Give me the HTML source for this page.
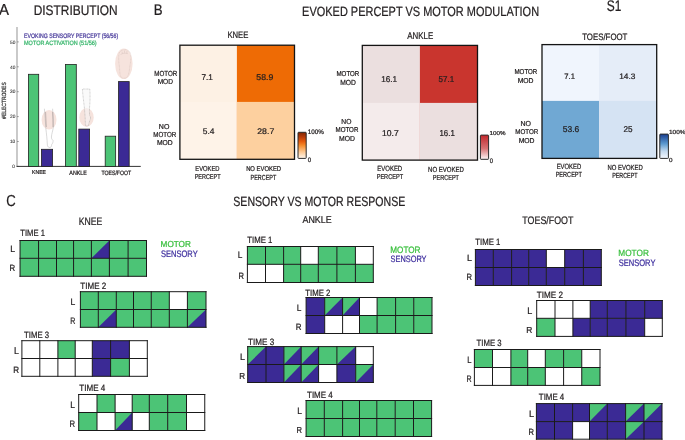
<!DOCTYPE html>
<html><head><meta charset="utf-8"><title>Figure</title>
<style>
html,body{margin:0;padding:0;background:#fff;}
body{width:685px;height:440px;overflow:hidden;}
svg{display:block;will-change:transform;filter:blur(0.3px);text-rendering:geometricPrecision;font-family:"Liberation Sans", sans-serif;}
</style></head>
<body>
<svg width="685" height="440" viewBox="0 0 685 440">
<defs>
<linearGradient id="gO" x1="0" y1="1" x2="0" y2="0"><stop offset="0" stop-color="#fff8ef"/><stop offset="0.25" stop-color="#fdc892"/><stop offset="0.5" stop-color="#f58a2a"/><stop offset="0.65" stop-color="#e55a0c"/><stop offset="0.82" stop-color="#b83c0a"/><stop offset="1" stop-color="#7f2704"/></linearGradient>
<linearGradient id="gR" x1="0" y1="1" x2="0" y2="0"><stop offset="0" stop-color="#fff8f8"/><stop offset="0.45" stop-color="#d77273"/><stop offset="1" stop-color="#c2272c"/></linearGradient>
<linearGradient id="gB" x1="0" y1="1" x2="0" y2="0"><stop offset="0" stop-color="#f5f9ff"/><stop offset="0.3" stop-color="#c3d9ee"/><stop offset="0.6" stop-color="#5b9ad0"/><stop offset="1" stop-color="#183c8e"/></linearGradient>
</defs>
<rect width="685" height="440" fill="#fff"/>
<text x="-1.07" y="14.80" font-size="15.84" fill="#231f20" textLength="10.01" lengthAdjust="spacingAndGlyphs" stroke="#231f20" stroke-width="0.24">A</text>
<text x="33.65" y="14.60" font-size="13.95" fill="#231f20" textLength="84.07" lengthAdjust="spacingAndGlyphs" stroke="#231f20" stroke-width="0.24">DISTRIBUTION</text>
<text x="24.08" y="37.50" font-size="6.40" fill="#4a3c9c" textLength="94.04" lengthAdjust="spacingAndGlyphs" stroke="#4a3c9c" stroke-width="0.24">EVOKING SENSORY PERCEPT (56/56)</text>
<text x="24.06" y="44.60" font-size="6.25" fill="#35b56a" textLength="72.60" lengthAdjust="spacingAndGlyphs" stroke="#35b56a" stroke-width="0.24">MOTOR ACTIVATION (51/56)</text>
<line x1="17" y1="27" x2="17" y2="166.4" stroke="#a6a6a6" stroke-width="1.2"/>
<line x1="17" y1="166.40" x2="18.8" y2="166.40" stroke="#666" stroke-width="0.6"/>
<text x="12.37" y="168.10" font-size="4.80" fill="#333" textLength="2.67" lengthAdjust="spacingAndGlyphs" stroke="#333" stroke-width="0.08">0</text>
<line x1="17" y1="141.50" x2="18.8" y2="141.50" stroke="#666" stroke-width="0.6"/>
<text x="9.95" y="143.20" font-size="4.80" fill="#333" textLength="5.34" lengthAdjust="spacingAndGlyphs" stroke="#333" stroke-width="0.08">10</text>
<line x1="17" y1="116.60" x2="18.8" y2="116.60" stroke="#666" stroke-width="0.6"/>
<text x="10.01" y="118.30" font-size="4.80" fill="#333" textLength="5.34" lengthAdjust="spacingAndGlyphs" stroke="#333" stroke-width="0.08">20</text>
<line x1="17" y1="91.70" x2="18.8" y2="91.70" stroke="#666" stroke-width="0.6"/>
<text x="10.04" y="93.40" font-size="4.80" fill="#333" textLength="5.34" lengthAdjust="spacingAndGlyphs" stroke="#333" stroke-width="0.08">30</text>
<line x1="17" y1="66.80" x2="18.8" y2="66.80" stroke="#666" stroke-width="0.6"/>
<text x="10.07" y="68.50" font-size="4.80" fill="#333" textLength="5.34" lengthAdjust="spacingAndGlyphs" stroke="#333" stroke-width="0.08">40</text>
<line x1="17" y1="41.90" x2="18.8" y2="41.90" stroke="#666" stroke-width="0.6"/>
<text x="10.04" y="43.60" font-size="4.80" fill="#333" textLength="5.34" lengthAdjust="spacingAndGlyphs" stroke="#333" stroke-width="0.08">50</text>
<line x1="16.5" y1="166.4" x2="140.75" y2="166.4" stroke="#333" stroke-width="1"/>
<ellipse cx="49.05" cy="119.7" rx="7.45" ry="9.8" fill="#f6e3dd"/>
<path d="M44.4 108.7 C44.8 115 45.5 122 45.9 129 C46.5 134 47.1 139 47.4 145.3 C47.7 147 48.8 147.6 50.2 147.5 C51.2 147.2 51.6 146 51.7 144.5 C52.6 143.5 53.3 141.8 53.0 140.4 C52.2 139.6 51.4 138.8 51.4 137 C51.6 134 52.8 131 53.4 127 C53.6 121 52.9 115 52.6 108.7" fill="none" stroke="#b4b4b4" stroke-width="0.5"/>
<path d="M45.6 112 C45.9 117 46.1 122 46.3 127 M52.7 112 C52.9 117 53.1 122 53.0 127" fill="none" stroke="#8c8080" stroke-width="0.45"/>
<ellipse cx="86.5" cy="117.4" rx="7.2" ry="9.5" fill="#f6e3dd"/>
<path d="M82.4 89 C82.8 95 83.6 101 84.3 107 C84.9 113 85.3 119 85.4 125.4 C86.4 126 87.6 126 88.5 125.4 C88.8 123.5 89.6 121 90.4 119 C90.8 117.8 90.4 116.5 89.6 115.4 C89.4 113 89.4 110 89.6 107 C90.1 101 90.2 95 89.8 89 Z" fill="#f6f6f6" fill-opacity="0.55" stroke="#a0a0a0" stroke-width="0.5" stroke-dasharray="0.9 0.5"/>
<ellipse cx="123.85" cy="63.85" rx="8.75" ry="15.25" fill="#f6e3dd"/>
<path d="M119.2 53 C120.5 50.3 123.5 49.4 126.2 49.8 C128.6 50.2 130.4 52 130.8 55 C131.2 59 130.2 64 129.6 68 C129.2 72 128.6 76 126.3 77.8 C124.3 78.6 121.6 78.3 120.6 76.3 C119.6 73.5 119.8 69.5 119.3 66 C118.8 62 118.2 57 119.2 53 Z" fill="none" stroke="#cdb9b3" stroke-width="0.45" stroke-dasharray="0.9 0.5"/>
<path d="M120.6 54.5 C122.5 53.2 125 52.8 127.8 53.6 M122 51.6 L122.4 53.4 M124.5 50.6 L124.6 52.8 M127 51 L126.8 53.2" fill="none" stroke="#cdb9b3" stroke-width="0.4"/>
<rect x="28.40" y="74.30" width="10.30" height="92.10" fill="#4cc476" stroke="#222" stroke-width="0.8"/>
<rect x="41.40" y="149.30" width="11.20" height="17.10" fill="#3b2a95" stroke="#222" stroke-width="0.8"/>
<rect x="65.40" y="64.40" width="10.90" height="102.00" fill="#4cc476" stroke="#222" stroke-width="0.8"/>
<rect x="78.80" y="129.10" width="10.80" height="37.30" fill="#3b2a95" stroke="#222" stroke-width="0.8"/>
<rect x="105.20" y="136.20" width="10.45" height="30.20" fill="#4cc476" stroke="#222" stroke-width="0.8"/>
<rect x="118.50" y="81.60" width="10.70" height="84.80" fill="#3b2a95" stroke="#222" stroke-width="0.8"/>
<text x="32.09" y="174.40" font-size="5.81" fill="#231f20" textLength="13.83" lengthAdjust="spacingAndGlyphs" stroke="#231f20" stroke-width="0.24">KNEE</text>
<text x="69.37" y="175.00" font-size="6.25" fill="#231f20" textLength="17.46" lengthAdjust="spacingAndGlyphs" stroke="#231f20" stroke-width="0.24">ANKLE</text>
<text x="101.40" y="175.00" font-size="6.25" fill="#231f20" textLength="29.81" lengthAdjust="spacingAndGlyphs" stroke="#231f20" stroke-width="0.24">TOES/FOOT</text>
<text transform="translate(5.7,118.9) rotate(-90)" font-size="6.0" fill="#2a2a2a" stroke="#2a2a2a" stroke-width="0.22" textLength="36.65" lengthAdjust="spacingAndGlyphs">#ELECTRODES</text>
<text x="153.84" y="15.40" font-size="15.41" fill="#231f20" textLength="8.85" lengthAdjust="spacingAndGlyphs" stroke="#231f20" stroke-width="0.24">B</text>
<text x="302.12" y="15.60" font-size="13.37" fill="#231f20" textLength="236.96" lengthAdjust="spacingAndGlyphs" stroke="#231f20" stroke-width="0.24">EVOKED PERCEPT VS MOTOR MODULATION</text>
<text x="606.86" y="10.90" font-size="15.41" fill="#231f20" textLength="14.61" lengthAdjust="spacingAndGlyphs" stroke="#231f20" stroke-width="0.24">S1</text>
<rect x="179.9" y="45.2" width="114.6" height="114.10000000000001" fill="#fdf1e4"/>
<rect x="179.9" y="101.9" width="114.6" height="57.400000000000006" fill="#fef3e8"/>
<rect x="236.9" y="45.2" width="57.599999999999994" height="114.10000000000001" fill="#ee6b05"/>
<rect x="236.9" y="101.9" width="57.599999999999994" height="57.400000000000006" fill="#fdd09f"/>
<rect x="179.9" y="45.2" width="114.6" height="114.10000000000001" fill="none" stroke="#141414" stroke-width="1.3"/>
<rect x="362.3" y="45.4" width="115.19999999999999" height="114.69999999999999" fill="#ebdfdf"/>
<rect x="362.3" y="102.9" width="115.19999999999999" height="57.19999999999999" fill="#f4ebeb"/>
<rect x="419.9" y="45.4" width="57.60000000000002" height="114.69999999999999" fill="#c9352e"/>
<rect x="419.9" y="102.9" width="57.60000000000002" height="57.19999999999999" fill="#ebdfdf"/>
<rect x="362.3" y="45.4" width="115.19999999999999" height="114.69999999999999" fill="none" stroke="#141414" stroke-width="1.3"/>
<rect x="542.0" y="44.6" width="114.70000000000005" height="113.80000000000001" fill="#f0f5fd"/>
<rect x="542.0" y="100.9" width="114.70000000000005" height="57.5" fill="#70a8d3"/>
<rect x="599.1" y="44.6" width="57.60000000000002" height="113.80000000000001" fill="#e5edf8"/>
<rect x="599.1" y="100.9" width="57.60000000000002" height="57.5" fill="#d5e3f3"/>
<rect x="542.0" y="44.6" width="114.70000000000005" height="113.80000000000001" fill="none" stroke="#141414" stroke-width="1.3"/>
<text x="201.39" y="80.00" font-size="8.31" fill="#231f20" textLength="11.38" lengthAdjust="spacingAndGlyphs" stroke="#231f20" stroke-width="0.24">7.1</text>
<text x="256.35" y="80.00" font-size="8.31" fill="#231f20" textLength="16.95" lengthAdjust="spacingAndGlyphs" stroke="#231f20" stroke-width="0.24">58.9</text>
<text x="202.76" y="134.20" font-size="8.17" fill="#231f20" textLength="11.69" lengthAdjust="spacingAndGlyphs" stroke="#231f20" stroke-width="0.24">5.4</text>
<text x="257.26" y="134.20" font-size="8.17" fill="#231f20" textLength="16.98" lengthAdjust="spacingAndGlyphs" stroke="#231f20" stroke-width="0.24">28.7</text>
<text x="381.19" y="81.60" font-size="8.45" fill="#231f20" textLength="15.89" lengthAdjust="spacingAndGlyphs" stroke="#231f20" stroke-width="0.24">16.1</text>
<text x="438.58" y="81.60" font-size="8.45" fill="#231f20" textLength="15.59" lengthAdjust="spacingAndGlyphs" stroke="#231f20" stroke-width="0.24">57.1</text>
<text x="382.06" y="135.60" font-size="8.45" fill="#231f20" textLength="16.68" lengthAdjust="spacingAndGlyphs" stroke="#231f20" stroke-width="0.24">10.7</text>
<text x="439.51" y="135.70" font-size="8.60" fill="#231f20" textLength="15.25" lengthAdjust="spacingAndGlyphs" stroke="#231f20" stroke-width="0.24">16.1</text>
<text x="564.32" y="78.60" font-size="7.88" fill="#231f20" textLength="10.63" lengthAdjust="spacingAndGlyphs" stroke="#231f20" stroke-width="0.24">7.1</text>
<text x="619.18" y="78.60" font-size="7.88" fill="#231f20" textLength="16.21" lengthAdjust="spacingAndGlyphs" stroke="#231f20" stroke-width="0.24">14.3</text>
<text x="562.76" y="132.30" font-size="8.45" fill="#231f20" textLength="16.43" lengthAdjust="spacingAndGlyphs" stroke="#231f20" stroke-width="0.24">53.6</text>
<text x="623.49" y="132.30" font-size="8.45" fill="#231f20" textLength="9.05" lengthAdjust="spacingAndGlyphs" stroke="#231f20" stroke-width="0.24">25</text>
<text x="227.38" y="38.25" font-size="9.45" fill="#231f20" textLength="20.95" lengthAdjust="spacingAndGlyphs" stroke="#231f20" stroke-width="0.24">KNEE</text>
<text x="407.26" y="38.70" font-size="9.74" fill="#231f20" textLength="25.99" lengthAdjust="spacingAndGlyphs" stroke="#231f20" stroke-width="0.24">ANKLE</text>
<text x="582.14" y="39.80" font-size="9.30" fill="#231f20" textLength="45.31" lengthAdjust="spacingAndGlyphs" stroke="#231f20" stroke-width="0.24">TOES/FOOT</text>
<text x="154.30" y="76.10" font-size="7.41" fill="#231f20" textLength="23.00" lengthAdjust="spacingAndGlyphs" stroke="#231f20" stroke-width="0.24">MOTOR</text>
<text x="157.68" y="84.40" font-size="7.27" fill="#231f20" textLength="15.24" lengthAdjust="spacingAndGlyphs" stroke="#231f20" stroke-width="0.24">MOD</text>
<text x="158.84" y="128.90" font-size="7.12" fill="#231f20" textLength="10.51" lengthAdjust="spacingAndGlyphs" stroke="#231f20" stroke-width="0.24">NO</text>
<text x="153.30" y="137.10" font-size="7.27" fill="#231f20" textLength="23.00" lengthAdjust="spacingAndGlyphs" stroke="#231f20" stroke-width="0.24">MOTOR</text>
<text x="156.96" y="145.20" font-size="7.12" fill="#231f20" textLength="15.77" lengthAdjust="spacingAndGlyphs" stroke="#231f20" stroke-width="0.24">MOD</text>
<text x="336.51" y="76.10" font-size="7.12" fill="#231f20" textLength="22.79" lengthAdjust="spacingAndGlyphs" stroke="#231f20" stroke-width="0.24">MOTOR</text>
<text x="340.16" y="84.70" font-size="7.41" fill="#231f20" textLength="15.66" lengthAdjust="spacingAndGlyphs" stroke="#231f20" stroke-width="0.24">MOD</text>
<text x="341.36" y="124.20" font-size="7.27" fill="#231f20" textLength="10.07" lengthAdjust="spacingAndGlyphs" stroke="#231f20" stroke-width="0.24">NO</text>
<text x="335.51" y="132.40" font-size="7.12" fill="#231f20" textLength="22.90" lengthAdjust="spacingAndGlyphs" stroke="#231f20" stroke-width="0.24">MOTOR</text>
<text x="339.06" y="140.70" font-size="7.27" fill="#231f20" textLength="15.87" lengthAdjust="spacingAndGlyphs" stroke="#231f20" stroke-width="0.24">MOD</text>
<text x="514.51" y="74.40" font-size="7.12" fill="#231f20" textLength="22.79" lengthAdjust="spacingAndGlyphs" stroke="#231f20" stroke-width="0.24">MOTOR</text>
<text x="517.66" y="82.80" font-size="7.12" fill="#231f20" textLength="15.87" lengthAdjust="spacingAndGlyphs" stroke="#231f20" stroke-width="0.24">MOD</text>
<text x="520.54" y="126.10" font-size="7.27" fill="#231f20" textLength="10.51" lengthAdjust="spacingAndGlyphs" stroke="#231f20" stroke-width="0.24">NO</text>
<text x="515.20" y="134.20" font-size="6.98" fill="#231f20" textLength="23.10" lengthAdjust="spacingAndGlyphs" stroke="#231f20" stroke-width="0.24">MOTOR</text>
<text x="518.66" y="142.60" font-size="7.12" fill="#231f20" textLength="15.87" lengthAdjust="spacingAndGlyphs" stroke="#231f20" stroke-width="0.24">MOD</text>
<text x="195.34" y="170.50" font-size="7.27" fill="#231f20" textLength="24.14" lengthAdjust="spacingAndGlyphs" stroke="#231f20" stroke-width="0.24">EVOKED</text>
<text x="194.66" y="178.70" font-size="6.98" fill="#231f20" textLength="25.84" lengthAdjust="spacingAndGlyphs" stroke="#231f20" stroke-width="0.24">PERCEPT</text>
<text x="246.13" y="171.40" font-size="6.98" fill="#231f20" textLength="34.94" lengthAdjust="spacingAndGlyphs" stroke="#231f20" stroke-width="0.24">NO EVOKED</text>
<text x="250.57" y="179.70" font-size="7.41" fill="#231f20" textLength="25.63" lengthAdjust="spacingAndGlyphs" stroke="#231f20" stroke-width="0.24">PERCEPT</text>
<text x="377.32" y="171.00" font-size="7.56" fill="#231f20" textLength="24.86" lengthAdjust="spacingAndGlyphs" stroke="#231f20" stroke-width="0.24">EVOKED</text>
<text x="376.65" y="179.00" font-size="6.98" fill="#231f20" textLength="26.45" lengthAdjust="spacingAndGlyphs" stroke="#231f20" stroke-width="0.24">PERCEPT</text>
<text x="428.12" y="171.70" font-size="7.41" fill="#231f20" textLength="35.86" lengthAdjust="spacingAndGlyphs" stroke="#231f20" stroke-width="0.24">NO EVOKED</text>
<text x="432.86" y="180.00" font-size="7.27" fill="#231f20" textLength="26.14" lengthAdjust="spacingAndGlyphs" stroke="#231f20" stroke-width="0.24">PERCEPT</text>
<text x="556.63" y="169.00" font-size="7.56" fill="#231f20" textLength="24.55" lengthAdjust="spacingAndGlyphs" stroke="#231f20" stroke-width="0.24">EVOKED</text>
<text x="555.65" y="177.00" font-size="7.41" fill="#231f20" textLength="26.35" lengthAdjust="spacingAndGlyphs" stroke="#231f20" stroke-width="0.24">PERCEPT</text>
<text x="607.42" y="169.70" font-size="7.41" fill="#231f20" textLength="35.35" lengthAdjust="spacingAndGlyphs" stroke="#231f20" stroke-width="0.24">NO EVOKED</text>
<text x="612.17" y="177.70" font-size="7.41" fill="#231f20" textLength="25.33" lengthAdjust="spacingAndGlyphs" stroke="#231f20" stroke-width="0.24">PERCEPT</text>
<rect x="298.0" y="132.3" width="8.199999999999989" height="26.099999999999994" rx="0.6" fill="url(#gO)" stroke="#2c2c2c" stroke-width="1.0"/>
<text x="307.83" y="133.70" font-size="6.59" fill="#231f20" textLength="16.13" lengthAdjust="spacingAndGlyphs" stroke="#231f20" stroke-width="0.24">100%</text>
<text x="307.76" y="161.60" font-size="6.30" fill="#231f20" textLength="3.40" lengthAdjust="spacingAndGlyphs" stroke="#231f20" stroke-width="0.24">0</text>
<rect x="480.4" y="135.1" width="8.200000000000045" height="24.200000000000017" rx="0.6" fill="url(#gR)" stroke="#2c2c2c" stroke-width="1.0"/>
<text x="489.63" y="134.50" font-size="5.73" fill="#231f20" textLength="16.08" lengthAdjust="spacingAndGlyphs" stroke="#231f20" stroke-width="0.24">100%</text>
<text x="489.76" y="163.00" font-size="6.59" fill="#231f20" textLength="3.28" lengthAdjust="spacingAndGlyphs" stroke="#231f20" stroke-width="0.24">0</text>
<rect x="659.8" y="134.1" width="8.600000000000023" height="24.30000000000001" rx="0.6" fill="url(#gB)" stroke="#2c2c2c" stroke-width="1.0"/>
<text x="669.02" y="134.40" font-size="5.87" fill="#231f20" textLength="16.49" lengthAdjust="spacingAndGlyphs" stroke="#231f20" stroke-width="0.24">100%</text>
<text x="669.05" y="162.40" font-size="5.87" fill="#231f20" textLength="3.51" lengthAdjust="spacingAndGlyphs" stroke="#231f20" stroke-width="0.24">0</text>
<text x="6.35" y="205.60" font-size="15.94" fill="#231f20" textLength="9.46" lengthAdjust="spacingAndGlyphs" stroke="#231f20" stroke-width="0.24">C</text>
<text x="233.32" y="206.20" font-size="13.37" fill="#231f20" textLength="171.93" lengthAdjust="spacingAndGlyphs" stroke="#231f20" stroke-width="0.24">SENSORY VS MOTOR RESPONSE</text>
<text x="78.81" y="225.00" font-size="10.90" fill="#231f20" textLength="23.57" lengthAdjust="spacingAndGlyphs" stroke="#231f20" stroke-width="0.24">KNEE</text>
<text x="20.35" y="236.30" font-size="9.16" fill="#231f20" textLength="24.52" lengthAdjust="spacingAndGlyphs" stroke="#231f20" stroke-width="0.24">TIME 1</text>
<rect x="20.04" y="240.50" width="18.51" height="17.80" fill="#4cc476"/>
<rect x="38.55" y="240.50" width="17.95" height="17.80" fill="#4cc476"/>
<rect x="56.50" y="240.50" width="17.07" height="17.80" fill="#4cc476"/>
<rect x="73.57" y="240.50" width="17.83" height="17.80" fill="#4cc476"/>
<rect x="91.40" y="240.50" width="18.00" height="17.80" fill="#4cc476"/>
<path d="M91.40 258.30 L109.40 240.50 L109.40 258.30 Z" fill="#3b2a95"/>
<rect x="109.40" y="240.50" width="18.70" height="17.80" fill="#4cc476"/>
<rect x="128.10" y="240.50" width="18.40" height="17.80" fill="#4cc476"/>
<rect x="20.04" y="258.30" width="18.51" height="18.00" fill="#4cc476"/>
<rect x="38.55" y="258.30" width="17.95" height="18.00" fill="#4cc476"/>
<rect x="56.50" y="258.30" width="17.07" height="18.00" fill="#4cc476"/>
<rect x="73.57" y="258.30" width="17.83" height="18.00" fill="#4cc476"/>
<rect x="91.40" y="258.30" width="18.00" height="18.00" fill="#4cc476"/>
<rect x="109.40" y="258.30" width="18.70" height="18.00" fill="#4cc476"/>
<rect x="128.10" y="258.30" width="18.40" height="18.00" fill="#4cc476"/>
<path d="M20.04 240.50V276.30M38.55 240.50V276.30M56.50 240.50V276.30M73.57 240.50V276.30M91.40 240.50V276.30M109.40 240.50V276.30M128.10 240.50V276.30M146.50 240.50V276.30M20.04 240.50H146.50M20.04 258.30H146.50M20.04 276.30H146.50" stroke="#1a1a1a" stroke-width="1.0" fill="none" stroke-linecap="square"/>
<text x="10.30" y="252.20" font-size="9.16" fill="#231f20" textLength="4.87" lengthAdjust="spacingAndGlyphs" stroke="#231f20" stroke-width="0.24">L</text>
<text x="9.62" y="271.20" font-size="9.01" fill="#231f20" textLength="5.64" lengthAdjust="spacingAndGlyphs" stroke="#231f20" stroke-width="0.24">R</text>
<text x="160.60" y="247.00" font-size="8.72" fill="#3cc040" textLength="30.30" lengthAdjust="spacingAndGlyphs" stroke="#3cc040" stroke-width="0.24">MOTOR</text>
<text x="160.91" y="257.30" font-size="9.45" fill="#3e2f9e" textLength="36.76" lengthAdjust="spacingAndGlyphs" stroke="#3e2f9e" stroke-width="0.24">SENSORY</text>
<text x="80.34" y="288.75" font-size="9.16" fill="#231f20" textLength="25.83" lengthAdjust="spacingAndGlyphs" stroke="#231f20" stroke-width="0.24">TIME 2</text>
<rect x="80.40" y="291.70" width="17.90" height="17.80" fill="#4cc476"/>
<rect x="98.30" y="291.70" width="18.00" height="17.80" fill="#4cc476"/>
<rect x="116.30" y="291.70" width="17.20" height="17.80" fill="#4cc476"/>
<rect x="133.50" y="291.70" width="17.75" height="17.80" fill="#4cc476"/>
<rect x="151.25" y="291.70" width="18.05" height="17.80" fill="#4cc476"/>
<rect x="187.40" y="291.70" width="18.60" height="17.80" fill="#4cc476"/>
<rect x="80.40" y="309.50" width="17.90" height="17.80" fill="#4cc476"/>
<rect x="98.30" y="309.50" width="18.00" height="17.80" fill="#4cc476"/>
<path d="M98.30 327.30 L116.30 309.50 L116.30 327.30 Z" fill="#3b2a95"/>
<rect x="116.30" y="309.50" width="17.20" height="17.80" fill="#4cc476"/>
<rect x="133.50" y="309.50" width="17.75" height="17.80" fill="#4cc476"/>
<rect x="151.25" y="309.50" width="18.05" height="17.80" fill="#4cc476"/>
<rect x="169.30" y="309.50" width="18.10" height="17.80" fill="#4cc476"/>
<rect x="187.40" y="309.50" width="18.60" height="17.80" fill="#4cc476"/>
<path d="M187.40 327.30 L206.00 309.50 L206.00 327.30 Z" fill="#3b2a95"/>
<path d="M80.40 291.70V327.30M98.30 291.70V327.30M116.30 291.70V327.30M133.50 291.70V327.30M151.25 291.70V327.30M169.30 291.70V327.30M187.40 291.70V327.30M206.00 291.70V327.30M80.40 291.70H206.00M80.40 309.50H206.00M80.40 327.30H206.00" stroke="#1a1a1a" stroke-width="1.0" fill="none" stroke-linecap="square"/>
<text x="70.52" y="305.00" font-size="9.45" fill="#231f20" textLength="4.75" lengthAdjust="spacingAndGlyphs" stroke="#231f20" stroke-width="0.24">L</text>
<text x="70.24" y="324.00" font-size="9.45" fill="#231f20" textLength="5.10" lengthAdjust="spacingAndGlyphs" stroke="#231f20" stroke-width="0.24">R</text>
<text x="24.09" y="337.50" font-size="9.16" fill="#231f20" textLength="25.03" lengthAdjust="spacingAndGlyphs" stroke="#231f20" stroke-width="0.24">TIME 3</text>
<rect x="57.90" y="340.70" width="17.30" height="17.80" fill="#4cc476"/>
<rect x="92.30" y="340.70" width="18.30" height="17.80" fill="#3b2a95"/>
<rect x="110.60" y="340.70" width="18.80" height="17.80" fill="#3b2a95"/>
<rect x="92.30" y="358.50" width="18.30" height="17.80" fill="#3b2a95"/>
<rect x="110.60" y="358.50" width="18.80" height="17.80" fill="#4cc476"/>
<path d="M21.90 340.70V376.30M39.80 340.70V376.30M57.90 340.70V376.30M75.20 340.70V376.30M92.30 340.70V376.30M110.60 340.70V376.30M129.40 340.70V376.30M147.30 340.70V376.30M21.90 340.70H147.30M21.90 358.50H147.30M21.90 376.30H147.30" stroke="#1a1a1a" stroke-width="1.0" fill="none" stroke-linecap="square"/>
<text x="14.08" y="354.00" font-size="9.88" fill="#231f20" textLength="5.00" lengthAdjust="spacingAndGlyphs" stroke="#231f20" stroke-width="0.24">L</text>
<text x="13.35" y="372.80" font-size="9.16" fill="#231f20" textLength="5.83" lengthAdjust="spacingAndGlyphs" stroke="#231f20" stroke-width="0.24">R</text>
<text x="79.34" y="391.25" font-size="9.16" fill="#231f20" textLength="25.92" lengthAdjust="spacingAndGlyphs" stroke="#231f20" stroke-width="0.24">TIME 4</text>
<rect x="97.00" y="394.50" width="18.10" height="18.00" fill="#4cc476"/>
<rect x="132.20" y="394.50" width="17.10" height="18.00" fill="#4cc476"/>
<rect x="149.30" y="394.50" width="18.40" height="18.00" fill="#4cc476"/>
<rect x="167.70" y="394.50" width="18.80" height="18.00" fill="#4cc476"/>
<rect x="78.70" y="412.50" width="18.30" height="18.00" fill="#4cc476"/>
<rect x="115.10" y="412.50" width="17.10" height="18.00" fill="#4cc476"/>
<path d="M115.10 430.50 L132.20 412.50 L132.20 430.50 Z" fill="#3b2a95"/>
<rect x="149.30" y="412.50" width="18.40" height="18.00" fill="#4cc476"/>
<rect x="167.70" y="412.50" width="18.80" height="18.00" fill="#4cc476"/>
<path d="M78.70 394.50V430.50M97.00 394.50V430.50M115.10 394.50V430.50M132.20 394.50V430.50M149.30 394.50V430.50M167.70 394.50V430.50M186.50 394.50V430.50M204.75 394.50V430.50M78.70 394.50H204.75M78.70 412.50H204.75M78.70 430.50H204.75" stroke="#1a1a1a" stroke-width="1.0" fill="none" stroke-linecap="square"/>
<text x="70.32" y="408.00" font-size="9.45" fill="#231f20" textLength="4.75" lengthAdjust="spacingAndGlyphs" stroke="#231f20" stroke-width="0.24">L</text>
<text x="69.58" y="426.50" font-size="9.45" fill="#231f20" textLength="5.58" lengthAdjust="spacingAndGlyphs" stroke="#231f20" stroke-width="0.24">R</text>
<text x="302.46" y="223.00" font-size="9.81" fill="#231f20" textLength="29.19" lengthAdjust="spacingAndGlyphs" stroke="#231f20" stroke-width="0.24">ANKLE</text>
<text x="247.34" y="242.50" font-size="9.16" fill="#231f20" textLength="25.03" lengthAdjust="spacingAndGlyphs" stroke="#231f20" stroke-width="0.24">TIME 1</text>
<rect x="247.40" y="246.50" width="18.10" height="17.80" fill="#4cc476"/>
<rect x="265.50" y="246.50" width="18.10" height="17.80" fill="#4cc476"/>
<rect x="283.60" y="246.50" width="17.10" height="17.80" fill="#4cc476"/>
<rect x="318.30" y="246.50" width="18.60" height="17.80" fill="#4cc476"/>
<rect x="336.90" y="246.50" width="18.50" height="17.80" fill="#4cc476"/>
<rect x="283.60" y="264.30" width="17.10" height="18.20" fill="#4cc476"/>
<rect x="300.70" y="264.30" width="17.60" height="18.20" fill="#4cc476"/>
<rect x="318.30" y="264.30" width="18.60" height="18.20" fill="#4cc476"/>
<rect x="336.90" y="264.30" width="18.50" height="18.20" fill="#4cc476"/>
<rect x="355.40" y="264.30" width="17.90" height="18.20" fill="#4cc476"/>
<path d="M247.40 246.50V282.50M265.50 246.50V282.50M283.60 246.50V282.50M300.70 246.50V282.50M318.30 246.50V282.50M336.90 246.50V282.50M355.40 246.50V282.50M373.30 246.50V282.50M247.40 246.50H373.30M247.40 264.30H373.30M247.40 282.50H373.30" stroke="#1a1a1a" stroke-width="1.0" fill="none" stroke-linecap="square"/>
<text x="237.83" y="258.20" font-size="9.30" fill="#231f20" textLength="4.62" lengthAdjust="spacingAndGlyphs" stroke="#231f20" stroke-width="0.24">L</text>
<text x="238.39" y="278.80" font-size="9.16" fill="#231f20" textLength="5.46" lengthAdjust="spacingAndGlyphs" stroke="#231f20" stroke-width="0.24">R</text>
<text x="390.25" y="252.50" font-size="9.30" fill="#3cc040" textLength="30.25" lengthAdjust="spacingAndGlyphs" stroke="#3cc040" stroke-width="0.24">MOTOR</text>
<text x="390.57" y="262.30" font-size="9.16" fill="#3e2f9e" textLength="36.00" lengthAdjust="spacingAndGlyphs" stroke="#3e2f9e" stroke-width="0.24">SENSORY</text>
<text x="305.34" y="296.00" font-size="9.16" fill="#231f20" textLength="25.07" lengthAdjust="spacingAndGlyphs" stroke="#231f20" stroke-width="0.24">TIME 2</text>
<rect x="306.10" y="297.50" width="18.60" height="18.00" fill="#3b2a95"/>
<rect x="324.70" y="297.50" width="17.90" height="18.00" fill="#4cc476"/>
<path d="M324.70 315.50 L342.60 297.50 L342.60 315.50 Z" fill="#3b2a95"/>
<rect x="342.60" y="297.50" width="16.90" height="18.00" fill="#4cc476"/>
<path d="M342.60 315.50 L359.50 297.50 L359.50 315.50 Z" fill="#3b2a95"/>
<rect x="377.10" y="297.50" width="18.50" height="18.00" fill="#4cc476"/>
<rect x="395.60" y="297.50" width="18.15" height="18.00" fill="#4cc476"/>
<rect x="413.75" y="297.50" width="18.25" height="18.00" fill="#4cc476"/>
<rect x="306.10" y="315.50" width="18.60" height="18.00" fill="#3b2a95"/>
<rect x="359.50" y="315.50" width="17.60" height="18.00" fill="#4cc476"/>
<rect x="377.10" y="315.50" width="18.50" height="18.00" fill="#4cc476"/>
<rect x="395.60" y="315.50" width="18.15" height="18.00" fill="#4cc476"/>
<rect x="413.75" y="315.50" width="18.25" height="18.00" fill="#4cc476"/>
<path d="M306.10 297.50V333.50M324.70 297.50V333.50M342.60 297.50V333.50M359.50 297.50V333.50M377.10 297.50V333.50M395.60 297.50V333.50M413.75 297.50V333.50M432.00 297.50V333.50M306.10 297.50H432.00M306.10 315.50H432.00M306.10 333.50H432.00" stroke="#1a1a1a" stroke-width="1.0" fill="none" stroke-linecap="square"/>
<text x="296.83" y="311.00" font-size="9.45" fill="#231f20" textLength="4.62" lengthAdjust="spacingAndGlyphs" stroke="#231f20" stroke-width="0.24">L</text>
<text x="295.87" y="329.80" font-size="9.16" fill="#231f20" textLength="5.70" lengthAdjust="spacingAndGlyphs" stroke="#231f20" stroke-width="0.24">R</text>
<text x="248.09" y="345.00" font-size="9.16" fill="#231f20" textLength="26.05" lengthAdjust="spacingAndGlyphs" stroke="#231f20" stroke-width="0.24">TIME 3</text>
<rect x="247.70" y="346.60" width="18.30" height="17.90" fill="#4cc476"/>
<path d="M247.70 364.50 L266.00 346.60 L266.00 364.50 Z" fill="#3b2a95"/>
<rect x="266.00" y="346.60" width="17.90" height="17.90" fill="#3b2a95"/>
<rect x="283.90" y="346.60" width="17.30" height="17.90" fill="#4cc476"/>
<path d="M283.90 364.50 L301.20 346.60 L301.20 364.50 Z" fill="#3b2a95"/>
<rect x="301.20" y="346.60" width="17.40" height="17.90" fill="#4cc476"/>
<path d="M301.20 364.50 L318.60 346.60 L318.60 364.50 Z" fill="#3b2a95"/>
<rect x="318.60" y="346.60" width="18.30" height="17.90" fill="#4cc476"/>
<rect x="336.90" y="346.60" width="18.80" height="17.90" fill="#4cc476"/>
<path d="M336.90 364.50 L355.70 346.60 L355.70 364.50 Z" fill="#3b2a95"/>
<rect x="247.70" y="364.50" width="18.30" height="18.00" fill="#3b2a95"/>
<rect x="266.00" y="364.50" width="17.90" height="18.00" fill="#3b2a95"/>
<rect x="283.90" y="364.50" width="17.30" height="18.00" fill="#4cc476"/>
<path d="M283.90 382.50 L301.20 364.50 L301.20 382.50 Z" fill="#3b2a95"/>
<rect x="301.20" y="364.50" width="17.40" height="18.00" fill="#4cc476"/>
<path d="M301.20 382.50 L318.60 364.50 L318.60 382.50 Z" fill="#3b2a95"/>
<rect x="336.90" y="364.50" width="18.80" height="18.00" fill="#3b2a95"/>
<rect x="355.70" y="364.50" width="17.60" height="18.00" fill="#4cc476"/>
<path d="M355.70 382.50 L373.30 364.50 L373.30 382.50 Z" fill="#3b2a95"/>
<path d="M247.70 346.60V382.50M266.00 346.60V382.50M283.90 346.60V382.50M301.20 346.60V382.50M318.60 346.60V382.50M336.90 346.60V382.50M355.70 346.60V382.50M373.30 346.60V382.50M247.70 346.60H373.30M247.70 364.50H373.30M247.70 382.50H373.30" stroke="#1a1a1a" stroke-width="1.0" fill="none" stroke-linecap="square"/>
<text x="240.08" y="360.00" font-size="9.45" fill="#231f20" textLength="5.00" lengthAdjust="spacingAndGlyphs" stroke="#231f20" stroke-width="0.24">L</text>
<text x="239.35" y="378.50" font-size="8.72" fill="#231f20" textLength="5.83" lengthAdjust="spacingAndGlyphs" stroke="#231f20" stroke-width="0.24">R</text>
<text x="307.04" y="397.50" font-size="9.16" fill="#231f20" textLength="25.72" lengthAdjust="spacingAndGlyphs" stroke="#231f20" stroke-width="0.24">TIME 4</text>
<rect x="306.10" y="400.50" width="18.20" height="18.00" fill="#4cc476"/>
<rect x="324.30" y="400.50" width="18.30" height="18.00" fill="#4cc476"/>
<rect x="342.60" y="400.50" width="16.90" height="18.00" fill="#4cc476"/>
<rect x="359.50" y="400.50" width="17.30" height="18.00" fill="#4cc476"/>
<rect x="376.80" y="400.50" width="18.40" height="18.00" fill="#4cc476"/>
<rect x="395.20" y="400.50" width="18.30" height="18.00" fill="#4cc476"/>
<rect x="413.50" y="400.50" width="18.10" height="18.00" fill="#4cc476"/>
<rect x="306.10" y="418.50" width="18.20" height="18.00" fill="#4cc476"/>
<rect x="324.30" y="418.50" width="18.30" height="18.00" fill="#4cc476"/>
<rect x="342.60" y="418.50" width="16.90" height="18.00" fill="#4cc476"/>
<rect x="359.50" y="418.50" width="17.30" height="18.00" fill="#4cc476"/>
<rect x="376.80" y="418.50" width="18.40" height="18.00" fill="#4cc476"/>
<rect x="395.20" y="418.50" width="18.30" height="18.00" fill="#4cc476"/>
<rect x="413.50" y="418.50" width="18.10" height="18.00" fill="#4cc476"/>
<path d="M306.10 400.50V436.50M324.30 400.50V436.50M342.60 400.50V436.50M359.50 400.50V436.50M376.80 400.50V436.50M395.20 400.50V436.50M413.50 400.50V436.50M431.60 400.50V436.50M306.10 400.50H431.60M306.10 418.50H431.60M306.10 436.50H431.60" stroke="#1a1a1a" stroke-width="1.0" fill="none" stroke-linecap="square"/>
<text x="297.32" y="414.00" font-size="9.45" fill="#231f20" textLength="4.75" lengthAdjust="spacingAndGlyphs" stroke="#231f20" stroke-width="0.24">L</text>
<text x="296.39" y="432.50" font-size="8.72" fill="#231f20" textLength="5.46" lengthAdjust="spacingAndGlyphs" stroke="#231f20" stroke-width="0.24">R</text>
<text x="522.32" y="223.75" font-size="10.90" fill="#231f20" textLength="51.10" lengthAdjust="spacingAndGlyphs" stroke="#231f20" stroke-width="0.24">TOES/FOOT</text>
<text x="475.34" y="245.00" font-size="9.16" fill="#231f20" textLength="25.03" lengthAdjust="spacingAndGlyphs" stroke="#231f20" stroke-width="0.24">TIME 1</text>
<rect x="475.40" y="249.50" width="17.90" height="18.00" fill="#3b2a95"/>
<rect x="493.30" y="249.50" width="18.30" height="18.00" fill="#3b2a95"/>
<rect x="511.60" y="249.50" width="17.10" height="18.00" fill="#3b2a95"/>
<rect x="528.70" y="249.50" width="17.60" height="18.00" fill="#3b2a95"/>
<rect x="564.70" y="249.50" width="18.70" height="18.00" fill="#3b2a95"/>
<rect x="583.40" y="249.50" width="17.90" height="18.00" fill="#3b2a95"/>
<rect x="475.40" y="267.50" width="17.90" height="18.00" fill="#3b2a95"/>
<rect x="493.30" y="267.50" width="18.30" height="18.00" fill="#3b2a95"/>
<rect x="511.60" y="267.50" width="17.10" height="18.00" fill="#3b2a95"/>
<rect x="528.70" y="267.50" width="17.60" height="18.00" fill="#3b2a95"/>
<rect x="546.30" y="267.50" width="18.40" height="18.00" fill="#3b2a95"/>
<rect x="564.70" y="267.50" width="18.70" height="18.00" fill="#3b2a95"/>
<rect x="583.40" y="267.50" width="17.90" height="18.00" fill="#3b2a95"/>
<path d="M475.40 249.50V285.50M493.30 249.50V285.50M511.60 249.50V285.50M528.70 249.50V285.50M546.30 249.50V285.50M564.70 249.50V285.50M583.40 249.50V285.50M601.30 249.50V285.50M475.40 249.50H601.30M475.40 267.50H601.30M475.40 285.50H601.30" stroke="#1a1a1a" stroke-width="1.0" fill="none" stroke-linecap="square"/>
<text x="467.08" y="261.20" font-size="9.01" fill="#231f20" textLength="5.00" lengthAdjust="spacingAndGlyphs" stroke="#231f20" stroke-width="0.24">L</text>
<text x="466.39" y="280.20" font-size="9.01" fill="#231f20" textLength="5.46" lengthAdjust="spacingAndGlyphs" stroke="#231f20" stroke-width="0.24">R</text>
<text x="618.34" y="255.50" font-size="9.08" fill="#3cc040" textLength="30.56" lengthAdjust="spacingAndGlyphs" stroke="#3cc040" stroke-width="0.24">MOTOR</text>
<text x="618.66" y="265.75" font-size="9.45" fill="#3e2f9e" textLength="36.76" lengthAdjust="spacingAndGlyphs" stroke="#3e2f9e" stroke-width="0.24">SENSORY</text>
<text x="536.84" y="297.50" font-size="9.16" fill="#231f20" textLength="26.09" lengthAdjust="spacingAndGlyphs" stroke="#231f20" stroke-width="0.24">TIME 2</text>
<rect x="590.20" y="300.50" width="17.10" height="17.80" fill="#3b2a95"/>
<rect x="607.30" y="300.50" width="18.60" height="17.80" fill="#3b2a95"/>
<rect x="625.90" y="300.50" width="18.80" height="17.80" fill="#3b2a95"/>
<rect x="644.70" y="300.50" width="17.60" height="17.80" fill="#3b2a95"/>
<rect x="536.70" y="318.30" width="18.30" height="18.10" fill="#4cc476"/>
<rect x="572.90" y="318.30" width="17.30" height="18.10" fill="#3b2a95"/>
<rect x="590.20" y="318.30" width="17.10" height="18.10" fill="#3b2a95"/>
<rect x="607.30" y="318.30" width="18.60" height="18.10" fill="#3b2a95"/>
<rect x="625.90" y="318.30" width="18.80" height="18.10" fill="#3b2a95"/>
<path d="M536.70 300.50V336.40M555.00 300.50V336.40M572.90 300.50V336.40M590.20 300.50V336.40M607.30 300.50V336.40M625.90 300.50V336.40M644.70 300.50V336.40M662.30 300.50V336.40M536.70 300.50H662.30M536.70 318.30H662.30M536.70 336.40H662.30" stroke="#1a1a1a" stroke-width="1.0" fill="none" stroke-linecap="square"/>
<text x="527.28" y="313.80" font-size="9.59" fill="#231f20" textLength="5.00" lengthAdjust="spacingAndGlyphs" stroke="#231f20" stroke-width="0.24">L</text>
<text x="526.33" y="332.50" font-size="8.72" fill="#231f20" textLength="6.07" lengthAdjust="spacingAndGlyphs" stroke="#231f20" stroke-width="0.24">R</text>
<text x="476.59" y="346.25" font-size="9.16" fill="#231f20" textLength="25.03" lengthAdjust="spacingAndGlyphs" stroke="#231f20" stroke-width="0.24">TIME 3</text>
<rect x="474.40" y="349.50" width="18.10" height="18.00" fill="#4cc476"/>
<rect x="510.90" y="349.50" width="16.80" height="18.00" fill="#4cc476"/>
<rect x="545.30" y="349.50" width="18.30" height="18.00" fill="#4cc476"/>
<rect x="563.60" y="349.50" width="18.15" height="18.00" fill="#4cc476"/>
<rect x="510.90" y="367.50" width="16.80" height="17.90" fill="#4cc476"/>
<rect x="527.70" y="367.50" width="17.60" height="17.90" fill="#4cc476"/>
<rect x="581.75" y="367.50" width="18.25" height="17.90" fill="#4cc476"/>
<path d="M474.40 349.50V385.40M492.50 349.50V385.40M510.90 349.50V385.40M527.70 349.50V385.40M545.30 349.50V385.40M563.60 349.50V385.40M581.75 349.50V385.40M600.00 349.50V385.40M474.40 349.50H600.00M474.40 367.50H600.00M474.40 385.40H600.00" stroke="#1a1a1a" stroke-width="1.0" fill="none" stroke-linecap="square"/>
<text x="467.19" y="362.50" font-size="9.45" fill="#231f20" textLength="4.25" lengthAdjust="spacingAndGlyphs" stroke="#231f20" stroke-width="0.24">L</text>
<text x="466.44" y="381.50" font-size="9.45" fill="#231f20" textLength="5.10" lengthAdjust="spacingAndGlyphs" stroke="#231f20" stroke-width="0.24">R</text>
<text x="538.84" y="400.20" font-size="9.16" fill="#231f20" textLength="25.42" lengthAdjust="spacingAndGlyphs" stroke="#231f20" stroke-width="0.24">TIME 4</text>
<rect x="536.40" y="403.60" width="18.10" height="18.00" fill="#3b2a95"/>
<rect x="554.50" y="403.60" width="18.10" height="18.00" fill="#3b2a95"/>
<rect x="572.60" y="403.60" width="16.90" height="18.00" fill="#3b2a95"/>
<rect x="589.50" y="403.60" width="17.80" height="18.00" fill="#4cc476"/>
<path d="M589.50 421.60 L607.30 403.60 L607.30 421.60 Z" fill="#3b2a95"/>
<rect x="607.30" y="403.60" width="18.30" height="18.00" fill="#3b2a95"/>
<rect x="625.60" y="403.60" width="18.40" height="18.00" fill="#4cc476"/>
<path d="M625.60 421.60 L644.00 403.60 L644.00 421.60 Z" fill="#3b2a95"/>
<rect x="644.00" y="403.60" width="18.00" height="18.00" fill="#4cc476"/>
<path d="M644.00 421.60 L662.00 403.60 L662.00 421.60 Z" fill="#3b2a95"/>
<rect x="536.40" y="421.60" width="18.10" height="17.60" fill="#3b2a95"/>
<rect x="554.50" y="421.60" width="18.10" height="17.60" fill="#3b2a95"/>
<rect x="589.50" y="421.60" width="17.80" height="17.60" fill="#3b2a95"/>
<rect x="607.30" y="421.60" width="18.30" height="17.60" fill="#3b2a95"/>
<rect x="625.60" y="421.60" width="18.40" height="17.60" fill="#4cc476"/>
<path d="M625.60 439.20 L644.00 421.60 L644.00 439.20 Z" fill="#3b2a95"/>
<rect x="644.00" y="421.60" width="18.00" height="17.60" fill="#3b2a95"/>
<path d="M536.40 403.60V439.20M554.50 403.60V439.20M572.60 403.60V439.20M589.50 403.60V439.20M607.30 403.60V439.20M625.60 403.60V439.20M644.00 403.60V439.20M662.00 403.60V439.20M536.40 403.60H662.00M536.40 421.60H662.00M536.40 439.20H662.00" stroke="#1a1a1a" stroke-width="1.0" fill="none" stroke-linecap="square"/>
<text x="528.96" y="416.50" font-size="9.45" fill="#231f20" textLength="5.12" lengthAdjust="spacingAndGlyphs" stroke="#231f20" stroke-width="0.24">L</text>
<text x="528.49" y="435.30" font-size="9.01" fill="#231f20" textLength="5.46" lengthAdjust="spacingAndGlyphs" stroke="#231f20" stroke-width="0.24">R</text>
</svg>
</body></html>
